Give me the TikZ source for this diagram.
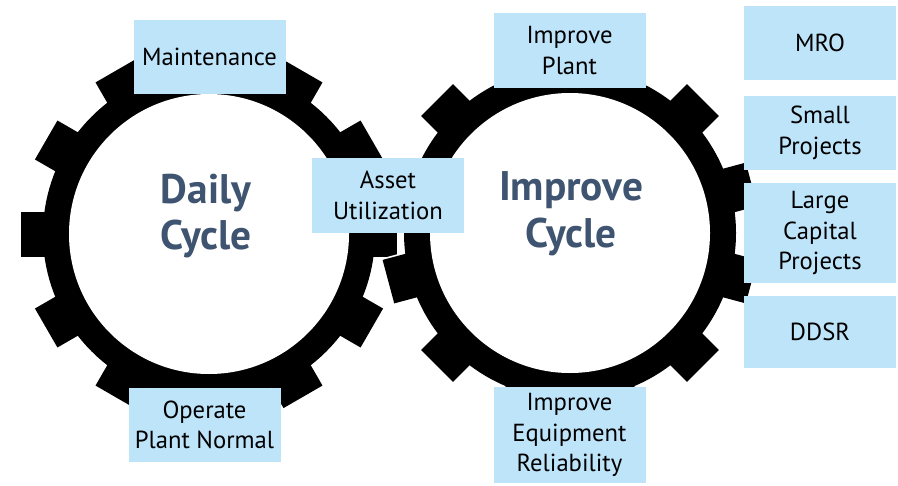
\documentclass[tikz,border=0pt]{standalone}
\usepackage{fontspec}
\setmainfont{PT Sans}
\usepackage{xcolor}

\definecolor{boxblue}{RGB}{190,228,250}
\definecolor{cycleblue}{RGB}{62,84,112}

% gear: centre x, centre y, angle of first tooth
\newcommand{\gearwheel}[3]{%
  \begin{scope}[shift={(#1,#2)}]
    \filldraw[fill=black, draw=white, line width=2.5pt] (0,0) circle (166);
    \foreach \a in {0,30,...,330}
      \filldraw[fill=black, draw=white, line width=2.5pt, rotate=\a+#3] (150,-22.5) rectangle (188,22.5);
    \fill[black] (0,0) circle (166);
    \foreach \a in {0,30,...,330}
      \fill[black, rotate=\a+#3] (150,-22.5) rectangle (188,22.5);
  \end{scope}}

\begin{document}
\begin{tikzpicture}[x=0.75pt, y=-0.75pt,
    box/.style = {fill=boxblue, inner sep=0pt, minimum width=114pt, minimum height=56pt,
                  align=center, font=\fontsize{18.5}{23}\selectfont},
    cyc/.style = {text=cycleblue, align=center, font=\bfseries\fontsize{31}{35}\selectfont}]
    \useasboundingbox (0,0) rectangle (898,485);

    % the two gears
    \gearwheel{209}{234}{0}
    \gearwheel{570}{233}{15}
    \fill[white] (209,234) circle (140);
    \fill[white] (570,233) circle (140);

    \node[cyc] (daily) at (206,216) {Daily\\Cycle};
    \node[cyc] (improve) at (571,214) {Improve\\Cycle};

    \node[box] (maint) at (209.5,57) {Maintenance};
    \node[box] (asset) at (388,195.5) {Asset\\Utilization};
    \node[box] (operate) at (204.5,425) {Operate\\Plant Normal};
    \node[box] (plant) at (569.5,50.5) {Improve\\Plant};
    \node[box, minimum height=72pt] (equip) at (569.5,435) {Improve\\Equipment\\Reliability};

    \node[box] (mro) at (820,43) {MRO};
    \node[box] (small) at (820,133) {Small\\Projects};
    \node[box, minimum height=75pt] (large) at (820,233) {Large\\Capital\\Projects};
    \node[box, minimum height=54pt] (ddsr) at (820,332) {DDSR};
\end{tikzpicture}
\end{document}
